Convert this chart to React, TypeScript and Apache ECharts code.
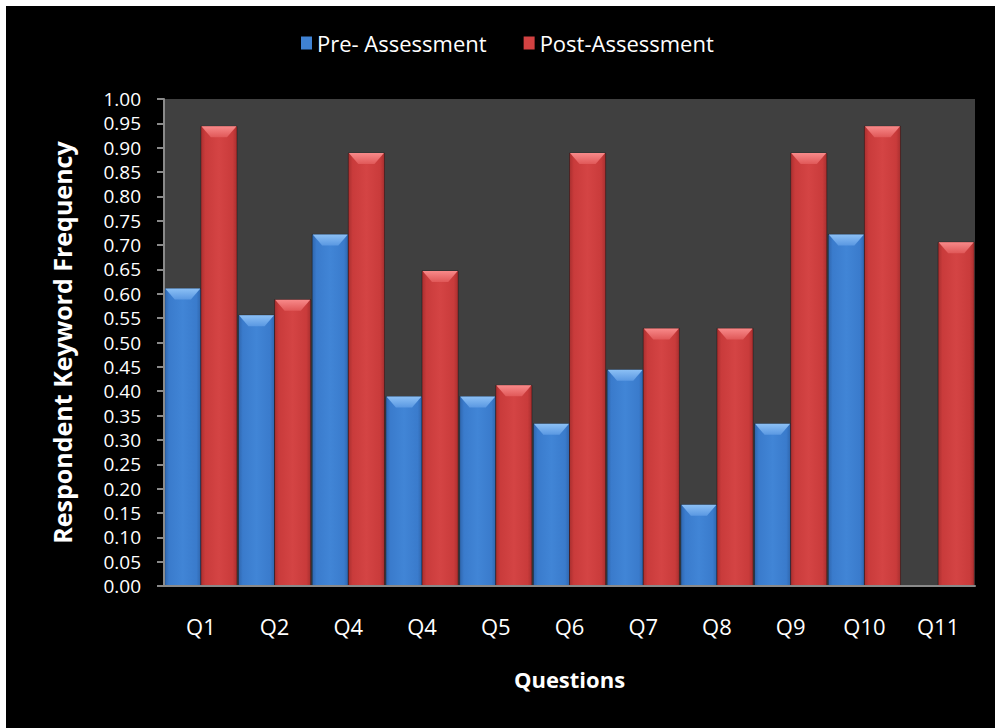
import React, { useEffect, useRef } from "react";
import * as echarts from "echarts";

const categories = ["Q1", "Q2", "Q4", "Q4", "Q5", "Q6", "Q7", "Q8", "Q9", "Q10", "Q11"];
const preValues: (number | null)[] = [0.611, 0.556, 0.722, 0.389, 0.389, 0.333, 0.444, 0.167, 0.333, 0.722, null];
const postValues: number[] = [0.944, 0.588, 0.889, 0.647, 0.412, 0.889, 0.529, 0.529, 0.889, 0.944, 0.706];
const yTicks = { min: 0, max: 1, interval: 0.05 };

const FONT = "Open Sans";

const blueGrad = new echarts.graphic.LinearGradient(0, 0, 1, 0, [
  { offset: 0, color: "#2f66ad" },
  { offset: 0.12, color: "#3a7bcc" },
  { offset: 0.5, color: "#4185d6" },
  { offset: 0.88, color: "#3a7bcc" },
  { offset: 1, color: "#2f66ad" },
]);
const redGrad = new echarts.graphic.LinearGradient(0, 0, 1, 0, [
  { offset: 0, color: "#a92f2f" },
  { offset: 0.12, color: "#c93b3b" },
  { offset: 0.5, color: "#d44444" },
  { offset: 0.88, color: "#c93b3b" },
  { offset: 1, color: "#a92f2f" },
]);
const blueBevel = new echarts.graphic.LinearGradient(0, 0, 0, 1, [
  { offset: 0, color: "#8cc0f5" },
  { offset: 1, color: "#5a98e2" },
]);
const redBevel = new echarts.graphic.LinearGradient(0, 0, 0, 1, [
  { offset: 0, color: "#f88a8a" },
  { offset: 1, color: "#e05858" },
]);

function makeRender(side: number) {
  return (params: any, api: any) => {
    const v = api.value(1);
    if (!(v > 0)) return null;
    const top = api.coord([api.value(0), v]);
    const base = api.coord([api.value(0), 0]);
    const bw = api.size([1, 0])[0];
    const w = bw * 0.49;
    const x0 = side === 0 ? top[0] - w : top[0];
    const y0 = top[1];
    const h = base[1] - y0;
    const bh = Math.min(11, h);
    const inset = 10;
    return {
      type: "group",
      children: [
        {
          type: "rect",
          shape: { x: x0, y: y0, width: w, height: h },
          style: { fill: side === 0 ? blueGrad : redGrad, stroke: "rgba(0,0,0,0.35)", lineWidth: 1 },
        },
        {
          type: "polygon",
          shape: {
            points: [
              [x0 + 0.5, y0],
              [x0 + w - 0.5, y0],
              [x0 + w - inset, y0 + bh],
              [x0 + inset, y0 + bh],
            ],
          },
          style: { fill: side === 0 ? blueBevel : redBevel },
        },
      ],
    };
  };
}

export default function App() {
  const ref = useRef<HTMLDivElement>(null);
  useEffect(() => {
    const chart = echarts.init(ref.current!, null, { renderer: "svg" });
    chart.setOption({
      animation: false,
      backgroundColor: "#000000",
      legend: {
        left: 290,
        top: 21,
        itemWidth: 11,
        itemHeight: 13,
        itemGap: 37,
        textStyle: { color: "#ffffff", fontFamily: FONT, fontSize: 22 },
        data: [
          { name: "Pre- Assessment", icon: "rect", itemStyle: { color: "#3f82d3" } },
          { name: "Post-Assessment", icon: "rect", itemStyle: { color: "#d24242" } },
        ],
      },
      grid: {
        left: 158,
        right: 20,
        top: 93,
        bottom: 142,
        show: true,
        backgroundColor: "#404040",
        borderWidth: 0,
      },
      xAxis: {
        type: "category",
        data: categories,
        z: 10,
        name: "Questions",
        nameLocation: "middle",
        nameGap: 82,
        nameTextStyle: { color: "#ffffff", fontFamily: FONT, fontSize: 22, fontWeight: "bold" },
        axisLine: { lineStyle: { color: "#8a8a8a", width: 2 } },
        axisTick: { show: false },
        axisLabel: { color: "#ffffff", fontFamily: FONT, fontSize: 22, margin: 29 },
        splitLine: { show: false },
      },
      yAxis: {
        type: "value",
        min: yTicks.min,
        max: yTicks.max,
        interval: yTicks.interval,
        z: 10,
        name: "Respondent Keyword Frequency",
        nameLocation: "middle",
        nameGap: 90,
        nameTextStyle: { color: "#ffffff", fontFamily: FONT, fontSize: 25, fontWeight: "bold" },
        axisLine: { show: true, lineStyle: { color: "#8a8a8a", width: 2 } },
        axisTick: { show: true, length: 7, lineStyle: { color: "#8a8a8a", width: 2 } },
        axisLabel: {
          color: "#ffffff",
          fontFamily: FONT,
          fontSize: 19,
          lineHeight: 19,
          margin: 23,
          formatter: (v: number) => v.toFixed(2),
        },
        splitLine: { show: false },
      },
      series: [
        {
          name: "Pre- Assessment",
          type: "custom",
          renderItem: makeRender(0),
          itemStyle: { color: "#3f82d3" },
          encode: { x: 0, y: 1 },
          data: preValues.map((v, i) => [i, v == null ? "-" : v]),
        },
        {
          name: "Post-Assessment",
          type: "custom",
          renderItem: makeRender(1),
          itemStyle: { color: "#d24242" },
          encode: { x: 0, y: 1 },
          data: postValues.map((v, i) => [i, v]),
        },
      ],
    });
    return () => chart.dispose();
  }, []);
  return (
    <div style={{ position: "fixed", left: 0, top: 0, width: 995, height: 728, background: "#ffffff" }}>
      <div ref={ref} style={{ position: "absolute", left: 6, top: 6, width: 989, height: 722 }} />
    </div>
  );
}
